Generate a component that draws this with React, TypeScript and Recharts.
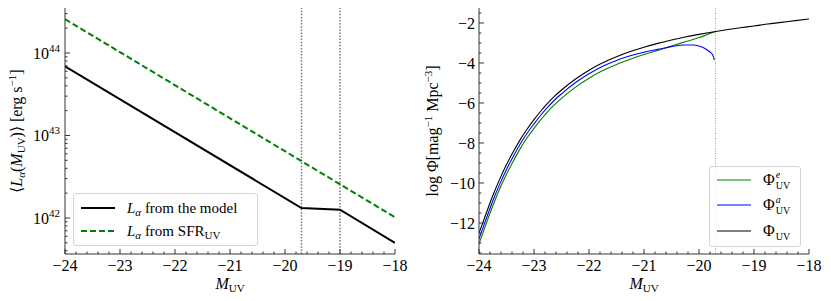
import { LineChart, Line, XAxis, YAxis, ReferenceLine, Legend, Label } from "recharts";

const FONT = '"Liberation Serif", "Times New Roman", serif';
const AXIS = "#333";

// left panel: Ly-alpha luminosity vs M_UV
const modelM = [-24, -19.7, -19, -18];
const modelL = [6.9e43, 1.32e42, 1.26e42, 5.0e41];
const sfrM = [-24, -18];
const sfrL = [2.57e44, 1.02e42];
const cutM = [-19.7, -19];

// right panel: UV luminosity functions (log Phi)
const totM = [-24, -23.875, -23.75, -23.625, -23.5, -23.375, -23.25, -23.125, -23, -22.875, -22.75, -22.625, -22.5, -22.25, -22, -21.75, -21.5, -21.25, -21, -20.75, -20.5, -20.25, -20, -19.75, -19.5, -19.25, -19, -18.75, -18.5, -18.25, -18];
const totPhi = [-12.5, -11.56, -10.64, -9.82, -9.08, -8.43, -7.83, -7.3, -6.83, -6.4, -6.01, -5.66, -5.35, -4.81, -4.36, -3.99, -3.69, -3.43, -3.21, -3.02, -2.85, -2.7, -2.57, -2.45, -2.34, -2.24, -2.15, -2.05, -1.97, -1.88, -1.8];
const aM = [-24, -23.875, -23.75, -23.625, -23.5, -23.375, -23.25, -23.125, -23, -22.875, -22.75, -22.625, -22.5, -22.25, -22, -21.75, -21.5, -21.25, -21, -20.75, -20.5, -20.25, -20.1, -20, -19.9, -19.8, -19.75, -19.72];
const aPhi = [-12.8, -11.84, -10.9, -10.07, -9.32, -8.66, -8.05, -7.51, -7.04, -6.6, -6.21, -5.85, -5.54, -4.99, -4.54, -4.16, -3.87, -3.64, -3.46, -3.32, -3.18, -3.1, -3.1, -3.15, -3.26, -3.45, -3.6, -3.85];
const eM = [-24, -23.875, -23.75, -23.625, -23.5, -23.375, -23.25, -23.125, -23, -22.875, -22.75, -22.625, -22.5, -22.25, -22, -21.75, -21.5, -21.25, -21, -20.75, -20.5, -20.25, -20, -19.85, -19.7];
const ePhi = [-13.05, -12.08, -11.15, -10.3, -9.56, -8.9, -8.28, -7.74, -7.27, -6.83, -6.43, -6.08, -5.77, -5.22, -4.76, -4.38, -4.07, -3.81, -3.58, -3.37, -3.15, -2.94, -2.73, -2.58, -2.43];

// ticks
const majorM = [-24, -23, -22, -21, -20, -19, -18];
const lumDecades = [41, 42, 43, 44];

const lumDomain = [3.66e41, 3.51e44];
const phiDomain = [-13.55, -1.25];

const mTicks = majorM
  .slice(0, -1)
  .flatMap((m) => [0, 1, 2, 3, 4].map((k) => +(m + 0.2 * k).toFixed(1)))
  .concat(-18);
const lumTicks = lumDecades
  .flatMap((d) => [1, 2, 3, 4, 5, 6, 7, 8, 9].map((k) => k * Math.pow(10, d)))
  .filter((v) => v >= lumDomain[0] && v <= lumDomain[1]);
const phiTicks: number[] = [];
for (let v = -13.5; v <= -1.5; v += 0.5) phiTicks.push(v);

const pts = (xs: number[], ys: number[]) => xs.map((m, i) => ({ m, v: ys[i] }));
const minus = (v: number) => (v < 0 ? "\u2212" + Math.abs(v) : String(v));

function XTick({ x, y, payload }: any) {
  const v = payload.value;
  const major = Math.abs(v - Math.round(v)) < 1e-6;
  return (
    <g>
      <line x1={x} x2={x} y1={y} y2={y - (major ? 5 : 2.5)} stroke={AXIS} strokeWidth={1} />
      {major && (
        <text x={x} y={y + 17} textAnchor="middle" fontSize={16} fontFamily={FONT} fill="#000">
          {minus(v)}
        </text>
      )}
    </g>
  );
}

function LogTick({ x, y, payload }: any) {
  const lg = Math.log10(payload.value);
  const major = Math.abs(lg - Math.round(lg)) < 1e-6;
  return (
    <g>
      <line x1={x} x2={x + (major ? 5 : 2.5)} y1={y} y2={y} stroke={AXIS} strokeWidth={1} />
      {major && (
        <text x={x - 5} y={y + 6} textAnchor="end" fontSize={16} fontFamily={FONT} fill="#000">
          10<tspan fontSize={11} dy={-7}>{Math.round(lg)}</tspan>
        </text>
      )}
    </g>
  );
}

function PhiTick({ x, y, payload }: any) {
  const v = payload.value;
  const major = Math.abs(v / 2 - Math.round(v / 2)) < 1e-6;
  return (
    <g>
      <line x1={x} x2={x + (major ? 5 : 2.5)} y1={y} y2={y} stroke={AXIS} strokeWidth={1} />
      {major && (
        <text x={x - 4} y={y + 5.5} textAnchor="end" fontSize={16} fontFamily={FONT} fill="#000">
          {minus(v)}
        </text>
      )}
    </g>
  );
}

const XLabel = (cx: number) => () => (
  <text x={cx} y={289} textAnchor="middle" fontSize={16} fontFamily={FONT} fill="#000">
    <tspan fontStyle="italic">M</tspan>
    <tspan fontSize={11} dy={3}>UV</tspan>
  </text>
);

const LeftYLabel = () => (
  <text transform="rotate(-90 22 131)" x={22} y={131} textAnchor="middle" fontSize={16} fontFamily={FONT} fill="#000">
    {"\u27E8"}
    <tspan fontStyle="italic">L</tspan>
    <tspan fontSize={11} dy={3} fontStyle="italic">α</tspan>
    <tspan dy={-3}>(</tspan>
    <tspan fontStyle="italic">M</tspan>
    <tspan fontSize={11} dy={3}>UV</tspan>
    <tspan dy={-3}>){"\u27E9"} [erg s</tspan>
    <tspan fontSize={11} dy={-6}>{"\u2212"}1</tspan>
    <tspan dy={6}>]</tspan>
  </text>
);

const RightYLabel = () => (
  <text transform="rotate(-90 18 131)" x={18} y={131} textAnchor="middle" fontSize={16} fontFamily={FONT} fill="#000">
    log Φ[mag
    <tspan fontSize={11} dy={-6}>{"\u2212"}1</tspan>
    <tspan dy={6}> Mpc</tspan>
    <tspan fontSize={11} dy={-6}>{"\u2212"}3</tspan>
    <tspan dy={6}>]</tspan>
  </text>
);

const boxStyle: React.CSSProperties = {
  position: "relative",
  width: "100%",
  height: "100%",
  boxSizing: "border-box",
  border: "1px solid #d4d4d4",
  borderRadius: 3,
  background: "rgba(255,255,255,0.85)",
  fontFamily: FONT,
  color: "#000",
};

function Row({ top, color, dash, width, children }: any) {
  return (
    <div style={{ position: "absolute", left: 0, top: top - 10, height: 20, display: "flex", alignItems: "center", whiteSpace: "nowrap" }}>
      <svg width={48} height={20} style={{ flex: "none" }}>
        <line x1={7} x2={41} y1={10} y2={10} stroke={color} strokeWidth={width} strokeDasharray={dash} />
      </svg>
      <div style={{ marginLeft: 5 }}>{children}</div>
    </div>
  );
}

const LeftLegend = () => (
  <div style={boxStyle}>
    <Row top={14} color="#000" width={2}>
      <span style={{ fontSize: 15 }}>
        <i>L</i>
        <i style={{ fontSize: 11, verticalAlign: -3 }}>α</i> from the model
      </span>
    </Row>
    <Row top={37} color="green" width={2} dash="6 3">
      <span style={{ fontSize: 15 }}>
        <i>L</i>
        <i style={{ fontSize: 11, verticalAlign: -3 }}>α</i> from SFR<span style={{ fontSize: 11, verticalAlign: -3 }}>UV</span>
      </span>
    </Row>
  </div>
);

function PhiSym({ sup }: { sup: string }) {
  return (
    <span style={{ fontSize: 16, display: "inline-flex", alignItems: "center" }}>
      Φ
      <span style={{ display: "inline-flex", flexDirection: "column", fontSize: 10, lineHeight: "11px", marginLeft: 1 }}>
        <i style={{ height: 11 }}>{sup}</i>
        <span>UV</span>
      </span>
    </span>
  );
}

const RightLegend = () => (
  <div style={boxStyle}>
    <Row top={13} color="green" width={1.2}>
      <PhiSym sup="e" />
    </Row>
    <Row top={38} color="blue" width={1.2}>
      <PhiSym sup="a" />
    </Row>
    <Row top={64} color="#000" width={1.2}>
      <PhiSym sup="" />
    </Row>
  </div>
);

export default function App() {
  return (
    <div style={{ position: "absolute", left: 0, top: 0, width: 831, height: 301, background: "#fff" }}>
      <div style={{ position: "absolute", left: 0, top: 0 }}>
        <LineChart width={420} height={301} margin={{ top: 8, right: 25, left: 0, bottom: 17 }}>
          <XAxis dataKey="m" type="number" domain={[-24, -18]} ticks={mTicks} interval={0} tick={<XTick />} tickLine={false} tickSize={0} tickMargin={0} height={30} stroke={AXIS} allowDataOverflow>
            <Label content={XLabel(230)} />
          </XAxis>
          <XAxis xAxisId="top" orientation="top" type="number" domain={[-24, -18]} tick={false} tickLine={false} height={0} stroke={AXIS} />
          <YAxis type="number" scale="log" domain={lumDomain} ticks={lumTicks} interval={0} tick={<LogTick />} tickLine={false} tickSize={0} tickMargin={0} width={65} stroke={AXIS} allowDataOverflow>
            <Label content={LeftYLabel} />
          </YAxis>
          <YAxis yAxisId="right" orientation="right" type="number" domain={[0, 1]} tick={false} tickLine={false} width={0} stroke={AXIS} />
          {cutM.map((m) => (
            <ReferenceLine key={m} x={m} stroke="#777" strokeWidth={1.5} strokeDasharray="1.5 1.6" />
          ))}
          <Line data={pts(modelM, modelL)} dataKey="v" type="linear" stroke="#000" strokeWidth={2} dot={false} activeDot={false} isAnimationActive={false} />
          <Line data={pts(sfrM, sfrL)} dataKey="v" type="linear" stroke="green" strokeWidth={2} strokeDasharray="6 3" dot={false} activeDot={false} isAnimationActive={false} />
          <Legend layout="vertical" align="center" verticalAlign="middle" content={LeftLegend} wrapperStyle={{ left: 73, top: 193, width: 185, height: 53 }} />
        </LineChart>
      </div>
      <div style={{ position: "absolute", left: 420, top: 0 }}>
        <LineChart width={411} height={301} margin={{ top: 8, right: 22, left: 0, bottom: 17 }}>
          <XAxis dataKey="m" type="number" domain={[-24, -18]} ticks={mTicks} interval={0} tick={<XTick />} tickLine={false} tickSize={0} tickMargin={0} height={30} stroke={AXIS} allowDataOverflow>
            <Label content={XLabel(224)} />
          </XAxis>
          <XAxis xAxisId="top" orientation="top" type="number" domain={[-24, -18]} tick={false} tickLine={false} height={0} stroke={AXIS} />
          <YAxis type="number" domain={phiDomain} ticks={phiTicks} interval={0} tick={<PhiTick />} tickLine={false} tickSize={0} tickMargin={0} width={59} stroke={AXIS} allowDataOverflow>
            <Label content={RightYLabel} />
          </YAxis>
          <YAxis yAxisId="right" orientation="right" type="number" domain={[0, 1]} tick={false} tickLine={false} width={0} stroke={AXIS} />
          <ReferenceLine x={-19.7} stroke="#999" strokeWidth={0.9} strokeDasharray="1 1.5" />
          <Line data={pts(eM, ePhi)} dataKey="v" type="monotone" stroke="green" strokeWidth={1.1} dot={false} activeDot={false} isAnimationActive={false} />
          <Line data={pts(aM, aPhi)} dataKey="v" type="monotone" stroke="blue" strokeWidth={1.1} dot={false} activeDot={false} isAnimationActive={false} />
          <Line data={pts(totM, totPhi)} dataKey="v" type="monotone" stroke="#000" strokeWidth={1.1} dot={false} activeDot={false} isAnimationActive={false} />
          <Legend layout="vertical" align="center" verticalAlign="middle" content={RightLegend} wrapperStyle={{ left: 289, top: 166, width: 92, height: 81 }} />
        </LineChart>
      </div>
    </div>
  );
}
